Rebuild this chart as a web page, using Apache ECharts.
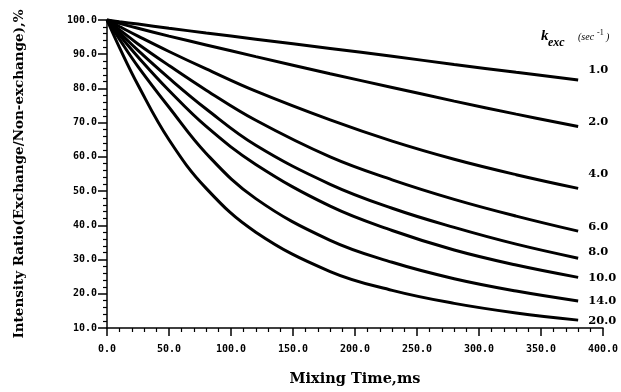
<!DOCTYPE html>
<html>
<head>
<meta charset="utf-8">
<script src="https://cdn.jsdelivr.net/npm/echarts@6/dist/echarts.min.js"></script>
<style>html,body{margin:0;padding:0;background:#fff}#c{width:621px;height:392px}</style>
</head>
<body>
<div id="c"></div>
<script>
// Mixing time (ms) sample points
const times = [0, 10, 25, 50, 80, 120, 180, 230, 280, 330, 380];
// k_exc series names
const rateNames = ['1.0', '2.0', '4.0', '6.0', '8.0', '10.0', '14.0', '20.0'];
// Intensity ratio values (%)
const k1  = [100, 99.5, 98.8, 97.6, 96.2, 94.4, 91.7, 89.4, 87.0, 84.7, 82.5];
const k2  = [100, 99.0, 97.6, 95.3, 92.7, 89.3, 84.3, 80.3, 76.3, 72.5, 68.9];
const k4  = [100, 98.1, 95.3, 90.8, 85.7, 79.2, 70.8, 64.6, 59.3, 54.8, 50.8];
const k6  = [100, 97.2, 93.0, 86.7, 79.5, 70.7, 60.0, 53.3, 47.6, 42.7, 38.3];
const k8  = [100, 96.4, 91.1, 83.0, 74.0, 63.4, 52.0, 45.0, 39.4, 34.5, 30.4];
const k10 = [100, 95.6, 89.2, 79.4, 68.9, 57.8, 45.6, 38.5, 32.8, 28.4, 24.8];
const k14 = [100, 94.4, 86.4, 74.5, 61.0, 47.8, 35.6, 29.2, 24.4, 20.8, 17.9];
const k20 = [100, 92.0, 81.0, 65.0, 50.8, 38.0, 26.5, 21.0, 17.2, 14.4, 12.3];
const allValues = [k1, k2, k4, k6, k8, k10, k14, k20];
// Axis ticks
const xTicks = [0, 50, 100, 150, 200, 250, 300, 350, 400];
const yTicks = [10, 20, 30, 40, 50, 60, 70, 80, 90, 100];

// label vertical offsets (style)
const labelDy = [-10, -4, -14, -4, -6, 1, 0, 1];

const tickFont = {fontFamily: 'DejaVu Sans Mono', fontWeight: 'bold', fontSize: 10, color: '#000'};

const series = allValues.map((vals, i) => ({
  name: rateNames[i],
  type: 'line',
  data: times.map((t, j) => [t, vals[j]]),
  smooth: 0.4,
  showSymbol: false,
  symbol: 'none',
  lineStyle: {color: '#000', width: 3},
  itemStyle: {color: '#000'},
  clip: false,
  endLabel: {
    show: true,
    formatter: '{a}',
    distance: 10,
    offset: [0, labelDy[i]],
    fontFamily: 'DejaVu Serif',
    fontWeight: 'bold',
    fontSize: 11.5,
    color: '#000'
  },
  animation: false
}));

const chart = echarts.init(document.getElementById('c'), null, {renderer: 'canvas'});
chart.setOption({
  backgroundColor: '#fff',
  animation: false,
  grid: {left: 107, right: 14, top: 20, bottom: 63, containLabel: false},
  xAxis: {
    type: 'value',
    min: xTicks[0], max: xTicks[xTicks.length - 1], interval: 50,
    name: 'Mixing Time,ms',
    nameLocation: 'middle',
    nameGap: 44,
    nameTextStyle: {fontFamily: 'DejaVu Serif', fontWeight: 'bold', fontSize: 14.5, color: '#000'},
    axisLine: {show: true, lineStyle: {color: '#000', width: 1.5}},
    axisTick: {show: true, length: 8, lineStyle: {color: '#000', width: 1.5}},
    minorTick: {show: true, splitNumber: 5, length: 4, lineStyle: {color: '#000', width: 1.2}},
    splitLine: {show: false},
    axisLabel: Object.assign({margin: 16, formatter: v => v.toFixed(1)}, tickFont)
  },
  yAxis: {
    type: 'value',
    min: yTicks[0], max: yTicks[yTicks.length - 1], interval: 10,
    name: 'Intensity Ratio(Exchange/Non-exchange),%',
    nameLocation: 'middle',
    nameGap: 81,
    nameRotate: 90,
    nameTextStyle: {fontFamily: 'DejaVu Serif', fontWeight: 'bold', fontSize: 13.5, color: '#000'},
    axisLine: {show: true, lineStyle: {color: '#000', width: 1.5}},
    axisTick: {show: true, length: 9, lineStyle: {color: '#000', width: 1.5}},
    minorTick: {show: true, splitNumber: 5, length: 4, lineStyle: {color: '#000', width: 1.2}},
    splitLine: {show: false},
    axisLabel: Object.assign({margin: 10, formatter: v => v.toFixed(1)}, tickFont)
  },
  graphic: [
    {type: 'text', left: 541, top: 29, style: {text: 'k', font: 'italic bold 15px "Liberation Serif"', fill: '#000'}},
    {type: 'text', left: 548, top: 37, style: {text: 'exc', font: 'italic bold 12px "Liberation Serif"', fill: '#000'}},
    {type: 'text', left: 578, top: 32, style: {text: '(sec', font: 'italic 10px "Liberation Serif"', fill: '#000'}},
    {type: 'text', left: 597, top: 29, style: {text: '-1', font: '8px "Liberation Serif"', fill: '#000'}},
    {type: 'text', left: 606, top: 32, style: {text: ')', font: 'italic 10px "Liberation Serif"', fill: '#000'}}
  ],
  series: series
});
</script>
</body>
</html>
